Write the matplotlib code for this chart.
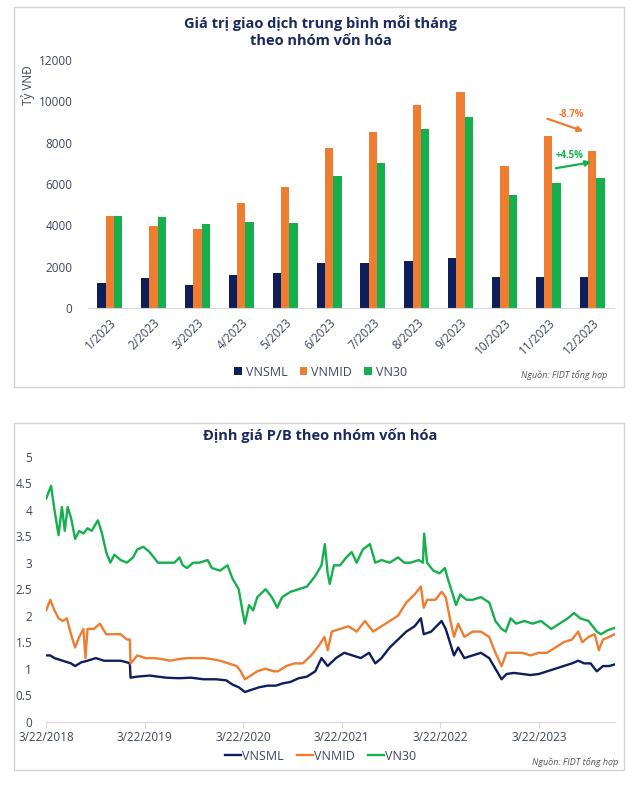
import numpy as np
import pandas as pd
import matplotlib
matplotlib.use('Agg')
import matplotlib.pyplot as plt
from matplotlib.patches import Rectangle

plt.rcParams['font.family'] = ['Open Sans', 'DejaVu Sans']

NAVY = '#0E1E5B'
ORANGE = '#EE7D31'
GREEN = '#16AF4E'
TITLE_C = '#1B2A5E'
TICK_C = '#3E4660'
AXIS_C = '#D9D9D9'

# ---- bar chart data (ty VND) ----
months = ['1/2023', '2/2023', '3/2023', '4/2023', '5/2023', '6/2023',
          '7/2023', '8/2023', '9/2023', '10/2023', '11/2023', '12/2023']
vnsml = [1190, 1430, 1110, 1610, 1710, 2160, 2190, 2290, 2420, 1480, 1510, 1480]
vnmid = [4470, 3970, 3840, 5100, 5870, 7760, 8530, 9840, 10450, 6890, 8300, 7578]
vn30 = [4440, 4380, 4060, 4140, 4120, 6370, 7000, 8660, 9260, 5480, 6030, 6301]

# ---- P/B data: years since 3/22/2018, value ----
vn30_t = [0, 0.050, 0.084, 0.126, 0.160, 0.189, 0.218, 0.252, 0.294, 0.336, 0.378, 0.420,
          0.462, 0.525, 0.567, 0.609, 0.651, 0.693, 0.756, 0.819, 0.882, 0.924, 0.987, 1.050,
          1.134, 1.218, 1.303, 1.353, 1.387, 1.429, 1.492, 1.555, 1.639, 1.681, 1.765, 1.840,
          1.891, 1.954, 1.996, 2.017, 2.059, 2.101, 2.143, 2.227, 2.290, 2.345, 2.395, 2.479,
          2.563, 2.647, 2.731, 2.794, 2.828, 2.857, 2.878, 2.920, 2.983, 3.046, 3.101, 3.151,
          3.214, 3.286, 3.340, 3.403, 3.487, 3.571, 3.634, 3.697, 3.782, 3.824, 3.836, 3.866,
          3.929, 3.992, 4.046, 4.076, 4.118, 4.160, 4.202, 4.265, 4.328, 4.412, 4.496, 4.559,
          4.622, 4.664, 4.714, 4.769, 4.853, 4.937, 5.021, 5.126, 5.210, 5.294, 5.357, 5.420,
          5.504, 5.588, 5.630, 5.693, 5.769]
vn30_pb = [4.21, 4.45, 4.0, 3.52, 4.05, 3.6, 4.05, 3.85, 3.45, 3.6, 3.55, 3.65,
           3.6, 3.8, 3.55, 3.2, 3.0, 3.15, 3.05, 3.0, 3.1, 3.25, 3.3, 3.2,
           3.0, 3.0, 3.0, 3.1, 2.95, 2.9, 3.0, 3.0, 3.05, 2.9, 2.85, 2.95,
           2.7, 2.5, 2.05, 1.85, 2.2, 2.1, 2.35, 2.5, 2.35, 2.15, 2.35, 2.45,
           2.5, 2.55, 2.75, 2.95, 3.35, 2.8, 2.6, 2.95, 2.95, 3.1, 3.2, 3.0,
           3.25, 3.35, 3.0, 3.05, 3.0, 3.1, 3.0, 3.0, 3.05, 3.0, 3.55, 3.0,
           2.85, 2.8, 2.9, 2.7, 2.45, 2.2, 2.4, 2.3, 2.3, 2.35, 2.25, 1.9,
           1.75, 1.7, 1.95, 1.85, 1.9, 1.85, 1.9, 1.75, 1.85, 1.95, 2.05, 1.95,
           1.9, 1.7, 1.65, 1.72, 1.77]

vnmid_t = [0, 0.042, 0.084, 0.126, 0.168, 0.210, 0.252, 0.294, 0.336, 0.378, 0.399, 0.420,
           0.483, 0.546, 0.609, 0.672, 0.756, 0.819, 0.849, 0.857, 0.882, 0.924, 1.008, 1.092,
           1.176, 1.261, 1.345, 1.429, 1.513, 1.597, 1.681, 1.765, 1.849, 1.933, 1.975, 2.017,
           2.059, 2.143, 2.227, 2.311, 2.353, 2.437, 2.521, 2.605, 2.689, 2.773, 2.824, 2.857,
           2.899, 2.983, 3.067, 3.151, 3.235, 3.319, 3.403, 3.487, 3.571, 3.655, 3.739, 3.803,
           3.832, 3.866, 3.950, 4.013, 4.055, 4.097, 4.139, 4.181, 4.244, 4.328, 4.412, 4.496,
           4.559, 4.622, 4.672, 4.748, 4.832, 4.916, 5.0, 5.084, 5.168, 5.252, 5.336, 5.399,
           5.441, 5.504, 5.567, 5.609, 5.651, 5.714, 5.769]
vnmid_pb = [2.1, 2.3, 2.1, 1.95, 1.9, 1.95, 1.65, 1.4, 1.6, 1.75, 1.2, 1.75,
            1.75, 1.85, 1.65, 1.65, 1.65, 1.55, 1.55, 1.1, 1.15, 1.25, 1.2, 1.2,
            1.18, 1.15, 1.18, 1.2, 1.2, 1.2, 1.18, 1.15, 1.1, 1.05, 0.95, 0.8,
            0.85, 0.95, 1.0, 0.95, 0.95, 1.05, 1.1, 1.1, 1.25, 1.45, 1.6, 1.35,
            1.7, 1.75, 1.8, 1.7, 1.9, 1.7, 1.8, 1.9, 2.0, 2.25, 2.4, 2.55,
            2.15, 2.3, 2.3, 2.45, 2.35, 1.95, 1.6, 1.85, 1.6, 1.7, 1.7, 1.6,
            1.3, 1.05, 1.3, 1.3, 1.3, 1.25, 1.3, 1.3, 1.4, 1.5, 1.55, 1.7,
            1.5, 1.6, 1.65, 1.35, 1.55, 1.6, 1.65]

vnsml_t = [0, 0.042, 0.084, 0.168, 0.252, 0.294, 0.357, 0.420, 0.504, 0.588, 0.672, 0.756,
           0.819, 0.849, 0.857, 0.924, 1.050, 1.218, 1.345, 1.471, 1.597, 1.723, 1.828, 1.891,
           1.954, 2.017, 2.080, 2.164, 2.248, 2.332, 2.395, 2.479, 2.563, 2.647, 2.731, 2.794,
           2.857, 2.941, 3.025, 3.109, 3.193, 3.277, 3.340, 3.403, 3.487, 3.571, 3.655, 3.739,
           3.803, 3.832, 3.908, 4.013, 4.055, 4.097, 4.139, 4.181, 4.244, 4.328, 4.412, 4.496,
           4.559, 4.622, 4.672, 4.748, 4.832, 4.916, 5.0, 5.084, 5.168, 5.252, 5.336, 5.399,
           5.461, 5.525, 5.588, 5.651, 5.714, 5.769]
vnsml_pb = [1.25, 1.25, 1.2, 1.15, 1.1, 1.05, 1.12, 1.15, 1.2, 1.15, 1.15, 1.15,
            1.12, 1.1, 0.83, 0.85, 0.87, 0.83, 0.82, 0.83, 0.8, 0.8, 0.78, 0.7,
            0.65, 0.56, 0.6, 0.65, 0.68, 0.68, 0.72, 0.75, 0.82, 0.85, 0.95, 1.2,
            1.05, 1.2, 1.3, 1.25, 1.2, 1.3, 1.1, 1.2, 1.4, 1.55, 1.7, 1.8,
            1.95, 1.65, 1.7, 1.9, 1.75, 1.5, 1.25, 1.4, 1.2, 1.25, 1.3, 1.2,
            1.0, 0.8, 0.9, 0.92, 0.9, 0.88, 0.9, 0.95, 1.0, 1.05, 1.1, 1.15,
            1.1, 1.1, 0.95, 1.05, 1.05, 1.08]

start = pd.Timestamp('2018-03-22')


def to_dates(t):
    return start + pd.to_timedelta(np.array(t) * 365.25, unit='D')


fig = plt.figure(figsize=(6.41, 7.87), dpi=100)

# panel frames
for y0, h in [(0.508, 0.483), (0.0216, 0.4409)]:
    fig.patches.append(Rectangle((0.022, y0), 0.951, h, transform=fig.transFigure,
                                 fill=False, edgecolor='#D3D3D3', lw=1.0))

# ---------------- bar chart ----------------
ax1 = fig.add_axes([0.137, 0.6086, 0.821, 0.3152])
x = np.arange(len(months))
w = 0.19
ax1.bar(x - w, vnsml, w, color=NAVY, label='VNSML')
ax1.bar(x, vnmid, w, color=ORANGE, label='VNMID')
ax1.bar(x + w, vn30, w, color=GREEN, label='VN30')
ax1.set_xlim(-0.5, len(months) - 0.5)
ax1.set_ylim(0, 12000)
ax1.set_yticks(range(0, 12001, 2000))
ax1.set_xticks(x)
ax1.set_xticklabels(months, rotation=45, ha='right', rotation_mode='anchor')
for s in ['top', 'right', 'left']:
    ax1.spines[s].set_visible(False)
ax1.spines['bottom'].set_color(AXIS_C)
ax1.tick_params(axis='both', length=0, labelsize=8.5, labelcolor=TICK_C)
ax1.tick_params(axis='y', pad=11)
ax1.tick_params(axis='x', pad=6)
ax1.set_ylabel('Tỷ VNĐ', fontsize=8.5, color=TICK_C)
ax1.yaxis.set_label_coords(-0.1, 0.9)

# change annotations between 11/2023 and 12/2023
i = len(months) - 2
mid_pct = (vnmid[i + 1] / vnmid[i] - 1) * 100
v30_pct = (vn30[i + 1] / vn30[i] - 1) * 100
ax1.annotate('', xy=(i + 0.86, vnmid[i + 1] + 930), xytext=(i - 0.08, vnmid[i] + 900),
             arrowprops=dict(arrowstyle='-|>', color=ORANGE, lw=1.6, mutation_scale=8))
ax1.text(i + 0.52, vnmid[i] + 1050, f'{mid_pct:+.1f}%', color=ORANGE,
         fontsize=7, fontweight='bold', ha='center', va='center')
ax1.annotate('', xy=(i + 1.04, vn30[i + 1] + 775), xytext=(i + 0.11, vn30[i] + 710),
             arrowprops=dict(arrowstyle='-|>', color=GREEN, lw=1.6, mutation_scale=8))
ax1.text(i + 0.49, vn30[i] + 1340, f'{v30_pct:+.1f}%', color=GREEN,
         fontsize=7, fontweight='bold', ha='center', va='center')

fig.text(0.5, 0.960, 'Giá trị giao dịch trung bình mỗi tháng\ntheo nhóm vốn hóa',
         ha='center', va='center', fontsize=10.5, fontweight='bold', color=TITLE_C,
         linespacing=1.25)
fig.legend(*ax1.get_legend_handles_labels(), loc='center', bbox_to_anchor=(0.5, 0.527),
           ncol=3, frameon=False, fontsize=9, handlelength=0.6, handleheight=0.6,
           handletextpad=0.3, columnspacing=1.0, labelcolor=TICK_C)
fig.text(0.947, 0.524, 'Nguồn: FIDT tổng hợp', ha='right', va='center',
         fontsize=6.5, style='italic', color='#555555')

# ---------------- P/B line chart ----------------
ax2 = fig.add_axes([0.072, 0.083, 0.887, 0.3367])
ax2.plot(to_dates(vnsml_t), vnsml_pb, color=NAVY, lw=1.7, label='VNSML')
ax2.plot(to_dates(vnmid_t), vnmid_pb, color=ORANGE, lw=1.7, label='VNMID')
ax2.plot(to_dates(vn30_t), vn30_pb, color=GREEN, lw=1.7, label='VN30')
ax2.set_ylim(0, 5)
ax2.set_yticks(np.arange(0, 5.01, 0.5))
ax2.set_yticklabels([f'{v:g}' for v in np.arange(0, 5.01, 0.5)])
ticks = pd.to_datetime([f'{y}-03-22' for y in range(2018, 2024)])
ax2.set_xticks(ticks)
ax2.set_xticklabels([f'3/22/{y}' for y in range(2018, 2024)])
ax2.set_xlim(start, to_dates([5.77])[0])
for s in ['top', 'right', 'left']:
    ax2.spines[s].set_visible(False)
ax2.spines['bottom'].set_color(AXIS_C)
ax2.tick_params(axis='y', length=0, labelsize=8.5, labelcolor=TICK_C, pad=10)
ax2.tick_params(axis='x', length=4, color=AXIS_C, labelsize=8.5, labelcolor=TICK_C, pad=3)

fig.text(0.5, 0.446, 'Định giá P/B theo nhóm vốn hóa', ha='center', va='center',
         fontsize=10.5, fontweight='bold', color=TITLE_C)
fig.legend(*ax2.get_legend_handles_labels(), loc='center', bbox_to_anchor=(0.5, 0.039),
           ncol=3, frameon=False, fontsize=9, handlelength=1.3, handletextpad=0.1,
           columnspacing=1.0, labelcolor=TICK_C)
fig.text(0.964, 0.032, 'Nguồn: FIDT tổng hợp', ha='right', va='center',
         fontsize=6.5, style='italic', color='#555555')

fig.savefig('out.png', dpi=100)
